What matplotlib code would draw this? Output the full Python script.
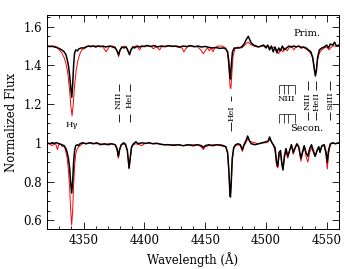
import matplotlib
matplotlib.use("Agg")
import matplotlib.pyplot as plt
from matplotlib.ticker import MultipleLocator, FuncFormatter

# Primary spectrum (offset +0.5): observed (black) and model (red)
prim_obs_wl = [4320, 4322, 4324, 4326, 4328, 4330, 4332, 4334, 4335.5, 4336.5, 4337.5, 4338.5,
               4339.5, 4340.3, 4341, 4341.8, 4342.5, 4343.5, 4345, 4346, 4348, 4350, 4352, 4354,
               4356, 4358, 4360, 4362, 4364, 4366, 4368, 4370, 4372, 4374, 4376, 4377.5, 4378.8,
               4380, 4381.5, 4383, 4385, 4386.5, 4387.8, 4389, 4390.5, 4392, 4394, 4396, 4398,
               4400, 4402, 4405, 4408, 4411, 4414, 4417, 4420, 4423, 4426, 4429, 4432, 4435,
               4438, 4441, 4444, 4447, 4450, 4453, 4456, 4459, 4462, 4465, 4467, 4468.5, 4469.5,
               4470.3, 4470.8, 4471.5, 4472.5, 4474, 4476, 4478, 4480, 4482, 4484, 4485.5,
               4486.5, 4488, 4490, 4492, 4494, 4496, 4498, 4500, 4501.5, 4503, 4504.5, 4506,
               4507.5, 4509, 4510.5, 4512, 4513.5, 4515, 4517, 4519, 4521, 4523, 4525, 4527,
               4529, 4531, 4533, 4535, 4537, 4538.5, 4539.8, 4540.7, 4541.5, 4542.5, 4544, 4546,
               4548, 4550, 4551.5, 4553, 4555, 4556.5, 4558, 4560]
prim_obs_fl = [1.500, 1.497, 1.500, 1.495, 1.492, 1.487, 1.480, 1.470, 1.455, 1.430, 1.400, 1.350,
               1.280, 1.235, 1.300, 1.400, 1.460, 1.480, 1.475, 1.485, 1.490, 1.490, 1.495, 1.500,
               1.497, 1.500, 1.495, 1.500, 1.497, 1.500, 1.495, 1.498, 1.500, 1.495, 1.490, 1.475,
               1.455, 1.480, 1.495, 1.490, 1.495, 1.475, 1.455, 1.480, 1.495, 1.490, 1.500, 1.495,
               1.500, 1.497, 1.503, 1.498, 1.502, 1.496, 1.500, 1.497, 1.502, 1.498, 1.500, 1.495,
               1.500, 1.497, 1.502, 1.496, 1.500, 1.495, 1.498, 1.493, 1.490, 1.492, 1.488, 1.490,
               1.485, 1.470, 1.420, 1.350, 1.330, 1.400, 1.470, 1.490, 1.490, 1.490, 1.495, 1.510,
               1.535, 1.550, 1.535, 1.515, 1.505, 1.500, 1.495, 1.500, 1.505, 1.490, 1.505, 1.480,
               1.500, 1.470, 1.495, 1.465, 1.490, 1.475, 1.500, 1.480, 1.490, 1.500, 1.495, 1.500,
               1.495, 1.500, 1.490, 1.495, 1.490, 1.480, 1.470, 1.440, 1.380, 1.345, 1.370, 1.440,
               1.480, 1.490, 1.495, 1.505, 1.490, 1.510, 1.505, 1.520, 1.500, 1.505]

prim_mod_wl = [4320, 4322, 4324, 4326, 4328, 4330, 4332, 4334, 4335.5, 4337, 4338.5, 4339.5,
               4340.5, 4341.5, 4342.5, 4344, 4345.5, 4347, 4348.5, 4350, 4351.5, 4353, 4356,
               4360, 4364, 4366, 4367.5, 4368.5, 4369.5, 4371, 4374, 4376, 4377.5, 4378.8, 4380,
               4381.5, 4384, 4386, 4387.5, 4389, 4390.5, 4393, 4395, 4396, 4397.5, 4400, 4404,
               4406, 4407.5, 4409, 4411, 4412.5, 4414, 4418, 4424, 4427, 4431, 4432.5, 4434,
               4436, 4440, 4444, 4446.5, 4448.5, 4450.5, 4452, 4453.5, 4455, 4456.5, 4458, 4460,
               4464, 4467, 4468.5, 4469.5, 4470.5, 4471.2, 4472, 4473, 4474.5, 4477, 4480, 4482,
               4484, 4485.5, 4487, 4490, 4493, 4496, 4500, 4503, 4505, 4507, 4509, 4510.5, 4512,
               4514, 4515.5, 4517.5, 4519, 4521, 4523, 4524.5, 4527, 4530, 4533, 4535, 4537,
               4538.5, 4539.8, 4540.7, 4541.5, 4542.5, 4544, 4546, 4548, 4550, 4552, 4553, 4555,
               4560]
prim_mod_fl = [1.500, 1.500, 1.495, 1.500, 1.495, 1.480, 1.465, 1.440, 1.410, 1.360, 1.270, 1.190,
               1.140, 1.200, 1.290, 1.380, 1.430, 1.460, 1.480, 1.485, 1.490, 1.500, 1.500,
               1.500, 1.500, 1.495, 1.480, 1.470, 1.480, 1.495, 1.500, 1.495, 1.475, 1.445, 1.475,
               1.495, 1.500, 1.485, 1.460, 1.480, 1.495, 1.500, 1.490, 1.480, 1.495, 1.500, 1.500,
               1.495, 1.485, 1.495, 1.490, 1.480, 1.495, 1.500, 1.500, 1.495, 1.490, 1.470, 1.485,
               1.500, 1.500, 1.495, 1.480, 1.460, 1.480, 1.490, 1.475, 1.490, 1.470, 1.490, 1.500,
               1.500, 1.490, 1.460, 1.390, 1.290, 1.280, 1.360, 1.450, 1.485, 1.495, 1.490, 1.500,
               1.515, 1.520, 1.510, 1.500, 1.495, 1.500, 1.500, 1.495, 1.490, 1.495, 1.475, 1.460,
               1.485, 1.470, 1.490, 1.475, 1.490, 1.500, 1.480, 1.495, 1.500, 1.495, 1.485, 1.475,
               1.460, 1.440, 1.390, 1.360, 1.380, 1.430, 1.465, 1.480, 1.490, 1.495, 1.480, 1.490,
               1.500, 1.500]

# Secondary spectrum (no offset)
sec_obs_wl = [4320, 4322, 4324, 4326, 4328, 4330, 4332, 4334, 4335.5, 4336.5, 4337.5, 4338.5,
              4339.3, 4340.2, 4341, 4341.8, 4342.6, 4343.5, 4345, 4346, 4347, 4349, 4352, 4355,
              4358, 4361, 4364, 4367, 4370, 4373, 4376, 4377.5, 4378.6, 4379.6, 4381, 4383,
              4384.5, 4386, 4387.4, 4388.5, 4389.5, 4391, 4393, 4395, 4398, 4401, 4404, 4407,
              4410, 4413, 4416, 4420, 4424, 4428, 4432, 4436, 4440, 4444, 4447, 4448.6, 4450,
              4453, 4456, 4460, 4464, 4467, 4468.5, 4469.5, 4470.3, 4470.8, 4471.5, 4472.3,
              4473.5, 4475, 4477, 4479, 4480.6, 4482, 4483.5, 4485, 4486.5, 4488, 4491, 4494,
              4497, 4500, 4502, 4503, 4504.5, 4506, 4507.5, 4508.8, 4509.8, 4510.8, 4512, 4513,
              4514, 4515.2, 4516.5, 4518, 4519.5, 4521, 4522.5, 4524, 4525.5, 4527, 4528.8, 4530,
              4531.5, 4533, 4534.5, 4536, 4537.5, 4539, 4540.5, 4542, 4543.5, 4544.5, 4546, 4548,
              4549.5, 4550.5, 4551.5, 4553, 4555, 4557, 4560]
sec_obs_fl = [1.000, 0.995, 1.000, 0.998, 1.000, 0.995, 0.990, 0.985, 0.970, 0.950, 0.920, 0.870,
              0.800, 0.740, 0.800, 0.900, 0.960, 0.985, 0.990, 0.985, 0.995, 1.000, 0.995, 1.000,
              0.995, 1.000, 0.990, 0.995, 0.990, 0.995, 0.990, 0.970, 0.930, 0.965, 0.990, 1.000,
              0.990, 0.960, 0.870, 0.930, 0.980, 0.995, 1.005, 0.995, 1.000, 0.997, 1.000, 0.995,
              0.998, 0.993, 0.990, 0.990, 0.987, 0.990, 0.985, 0.990, 0.985, 0.990, 0.985, 0.975,
              0.985, 0.990, 0.985, 0.990, 0.985, 0.980, 0.950, 0.860, 0.750, 0.720, 0.800, 0.920,
              0.975, 0.990, 0.995, 0.990, 0.965, 0.990, 1.010, 1.035, 1.010, 0.995, 0.990, 0.995,
              1.000, 1.005, 1.010, 1.030, 1.005, 0.990, 0.975, 0.900, 0.880, 0.950, 0.960, 0.900,
              0.860, 0.930, 0.970, 0.930, 0.960, 0.990, 0.950, 0.975, 0.995, 0.980, 0.920, 0.950,
              0.985, 0.950, 0.930, 0.970, 0.990, 0.960, 0.930, 0.960, 0.980, 0.950, 0.985, 0.990,
              0.950, 0.900, 0.960, 0.995, 1.000, 0.995, 1.000]

sec_mod_wl = [4320, 4322, 4324, 4325, 4327, 4328.5, 4329.5, 4331, 4332.5, 4333.5, 4334.5, 4335.5,
              4336.5, 4337.5, 4338.5, 4339.3, 4340.2, 4341, 4341.8, 4342.6, 4343.5, 4344.5, 4346,
              4348, 4350, 4352, 4356, 4360, 4364, 4367, 4370, 4373, 4376, 4377.5, 4378.6, 4379.6,
              4381, 4384.5, 4386, 4387.4, 4388.5, 4389.5, 4391, 4393, 4396, 4398, 4400, 4404,
              4408, 4412, 4416, 4420, 4424, 4428, 4432, 4436, 4440, 4444, 4446.5, 4448.6, 4450,
              4453, 4456, 4460, 4464, 4467, 4468.5, 4469.5, 4470.3, 4470.8, 4471.5, 4472.3,
              4473.5, 4475, 4477, 4479, 4480.6, 4482, 4483.5, 4485, 4486.5, 4488, 4491, 4494,
              4497, 4500, 4502, 4503, 4504.5, 4506, 4507.5, 4508.8, 4509.8, 4510.8, 4512, 4513,
              4514, 4515.2, 4516.5, 4518, 4519.5, 4521, 4522.5, 4524, 4525.5, 4527, 4528.8, 4530,
              4531.5, 4533, 4534.5, 4536, 4537.5, 4539, 4540.5, 4542, 4543.5, 4544.5, 4546, 4548,
              4549.5, 4550.5, 4551.5, 4553, 4555, 4557, 4560]
sec_mod_fl = [1.000, 0.995, 0.985, 0.990, 0.995, 0.965, 0.990, 0.995, 0.980, 0.985, 0.975, 0.950,
              0.920, 0.860, 0.770, 0.660, 0.575, 0.650, 0.780, 0.880, 0.940, 0.965, 0.980,
              0.990, 1.000, 0.995, 1.000, 0.995, 0.995, 0.990, 0.995, 0.995, 0.990, 0.965, 0.920,
              0.960, 0.990, 0.995, 0.960, 0.865, 0.920, 0.975, 0.990, 0.995, 0.990, 0.985, 0.995,
              1.000, 0.995, 0.995, 0.990, 0.990, 0.990, 0.990, 0.985, 0.990, 0.990, 0.990, 0.980,
              0.965, 0.980, 0.985, 0.990, 0.990, 0.990, 0.980, 0.940, 0.850, 0.740, 0.720, 0.790,
              0.910, 0.970, 0.985, 0.990, 0.985, 0.955, 0.985, 1.000, 1.020, 1.010, 1.005, 1.000,
              0.995, 1.000, 1.000, 1.005, 1.020, 1.010, 0.990, 0.960, 0.880, 0.870, 0.930, 0.950,
              0.890, 0.860, 0.920, 0.960, 0.920, 0.960, 0.990, 0.940, 0.970, 0.990, 0.975, 0.905,
              0.940, 0.980, 0.930, 0.900, 0.950, 0.975, 0.950, 0.930, 0.955, 0.975, 0.960, 0.980,
              0.985, 0.930, 0.865, 0.940, 0.990, 1.000, 0.995, 1.000]

# line identifications: wavelength, label, text centre, upper dash, lower dash
id_wl = [4379.1, 4387.9, 4471.5, 4534.6, 4541.6, 4552.6]
id_txt = ["NIII", "HeI", "HeI", "NIII", "HeII", "SiIII"]
id_yc = [1.22, 1.22, 1.155, 1.215, 1.215, 1.215]
id_top = [(1.268, 1.305), (1.268, 1.305), (1.215, 1.24), (1.275, 1.32), (1.275, 1.32), (1.275, 1.32)]
id_bot = [(1.11, 1.15), (1.11, 1.15), (1.06, 1.11), (1.12, 1.16), (1.12, 1.16), (1.12, 1.16)]
nIII_group = [4510.9, 4514.9, 4518.1, 4523.6]

plt.rcParams['font.family'] = 'DejaVu Serif'

fig = plt.figure(figsize=(3.44, 2.69), dpi=100)
ax = fig.add_axes([0.137, 0.149, 0.848, 0.795])

ax.plot(prim_mod_wl, prim_mod_fl, color='red', lw=0.7)
ax.plot(prim_obs_wl, prim_obs_fl, color='black', lw=1.1)
ax.plot(sec_mod_wl, sec_mod_fl, color='red', lw=0.7)
ax.plot(sec_obs_wl, sec_obs_fl, color='black', lw=1.1)

for wl, t, yc, top, bot in zip(id_wl, id_txt, id_yc, id_top, id_bot):
    ax.vlines(wl, top[0], top[1], color='black', lw=0.6)
    ax.vlines(wl, bot[0], bot[1], color='black', lw=0.6)
    ax.text(wl, yc, t, rotation=90, ha='center', va='center', fontsize=6)

# NIII blend marks
ax.vlines(nIII_group, 1.25, 1.30, color='black', lw=0.5)
ax.hlines(1.30, nIII_group[0], nIII_group[-1], color='black', lw=0.5)
ax.vlines(nIII_group, 1.10, 1.15, color='black', lw=0.5)
ax.hlines(1.15, nIII_group[0], nIII_group[-1], color='black', lw=0.5)
ax.text(4516.8, 1.225, "NIII", ha='center', va='center', fontsize=6)

ax.text(4340.5, 1.09, "H\u03b3", ha='center', va='center', fontsize=6)
ax.text(4534, 1.567, "Prim.", ha='center', va='center', fontsize=7)
ax.text(4534, 1.074, "Secon.", ha='center', va='center', fontsize=7)

ax.set_xlim(4320, 4560)
ax.set_ylim(0.555, 1.66)
ax.xaxis.set_major_locator(MultipleLocator(50))
ax.xaxis.set_minor_locator(MultipleLocator(10))
ax.yaxis.set_major_locator(MultipleLocator(0.2))
ax.yaxis.set_minor_locator(MultipleLocator(0.05))
ax.yaxis.set_major_formatter(FuncFormatter(lambda v, p: '%g' % round(v, 2)))
ax.tick_params(which='both', direction='in', top=True, right=True, labelsize=8.5, width=0.6)
ax.tick_params(which='major', length=5)
ax.tick_params(which='minor', length=2.5)
for s in ax.spines.values():
    s.set_linewidth(0.7)

ax.set_xlabel("Wavelength (\u00c5)", fontsize=8.5)
ax.set_ylabel("Normalized Flux", fontsize=8.5)

fig.savefig("out.png", dpi=100)
